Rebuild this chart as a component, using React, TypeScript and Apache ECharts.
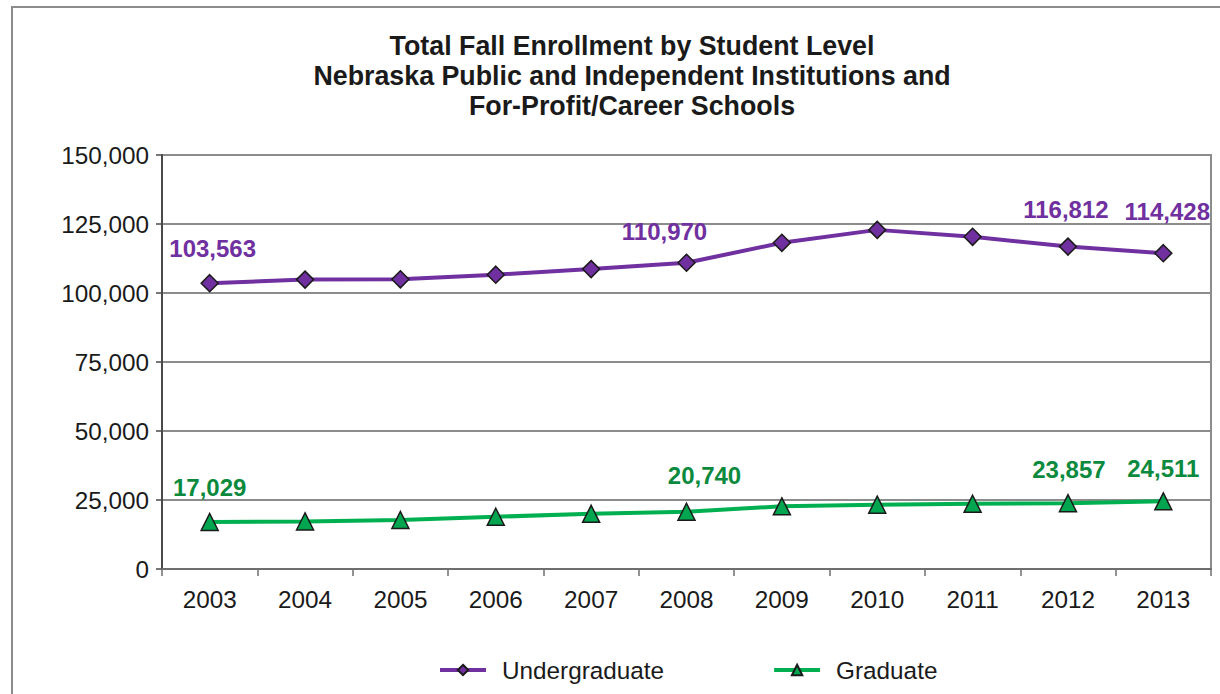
import React, { useEffect, useRef } from "react";
import * as echarts from "echarts";

const years = ["2003", "2004", "2005", "2006", "2007", "2008", "2009", "2010", "2011", "2012", "2013"];
const undergraduate = [103563, 104850, 104950, 106640, 108660, 110970, 118180, 122870, 120350, 116812, 114428];
const graduate = [17029, 17250, 17740, 18930, 20000, 20740, 22700, 23300, 23650, 23857, 24511];
const labelledUndergrad = [0, 5, 9, 10];
const labelledGrad = [0, 5, 9, 10];

const titleLines = [
  "Total Fall Enrollment by Student Level",
  "Nebraska Public and Independent Institutions and",
  "For-Profit/Career Schools",
];

// label offsets (style only)
const ugOffsets: Record<number, [number, number]> = { 0: [3, -8], 5: [-22, -5], 9: [-2, -11], 10: [4, -15] };
const grOffsets: Record<number, [number, number]> = { 0: [0, -8], 5: [18, -10], 9: [1, -7], 10: [0, -7] };

const FONT = "'Liberation Sans', Arial, sans-serif";
const fmt = (v: number) => v.toLocaleString("en-US");

function buildData(values: number[], labelled: number[], offsets: Record<number, [number, number]>) {
  return values.map((v, i) =>
    labelled.includes(i)
      ? { value: v, label: { show: true, offset: offsets[i] } }
      : { value: v }
  );
}

export default function App() {
  const ref = useRef<HTMLDivElement>(null);
  useEffect(() => {
    if (!ref.current) return;
    const chart = echarts.init(ref.current, undefined, { renderer: "svg" });
    chart.setOption({
      animation: false,
      backgroundColor: "#ffffff",
      textStyle: { fontFamily: FONT },
      title: {
        text: titleLines.join("\n"),
        left: 627,
        textAlign: "center",
        top: 26,
        textStyle: {
          fontFamily: FONT,
          fontSize: 26.8,
          fontWeight: "bold",
          color: "#1a1a1a",
          lineHeight: 30,
        },
      },
      graphic: [
        {
          type: "rect",
          shape: { x: 12, y: 7, width: 1230, height: 700 },
          style: { fill: "none", stroke: "#8c8c8c", lineWidth: 2 },
          silent: true,
        },
      ],
      grid: {
        left: 162,
        top: 155,
        right: 9,
        bottom: 125,
        show: true,
        borderColor: "#8c8c8c",
        borderWidth: 2,
      },
      legend: {
        left: 433,
        top: 653,
        itemWidth: 46,
        itemHeight: 13,
        itemGap: 108,
        lineStyle: { width: 4 },
        textStyle: { fontFamily: FONT, fontSize: 24.3, color: "#1a1a1a", padding: [0, 0, 0, 11] },
        data: ["Undergraduate", "Graduate"],
      },
      xAxis: {
        type: "category",
        data: years,
        boundaryGap: true,
        axisLine: { lineStyle: { color: "#6e6e6e", width: 2 } },
        axisTick: { show: true, length: 7, lineStyle: { color: "#6e6e6e", width: 1.5 } },
        axisLabel: { fontFamily: FONT, fontSize: 24.3, color: "#1a1a1a", margin: 18 },
      },
      yAxis: {
        type: "value",
        min: 0,
        max: 150000,
        interval: 25000,
        axisLine: { show: true, lineStyle: { color: "#4a4a4a", width: 2 } },
        axisTick: { show: true, length: 6, lineStyle: { color: "#4a4a4a", width: 1.5 } },
        axisLabel: { fontFamily: FONT, fontSize: 24.3, color: "#1a1a1a", margin: 13, formatter: (v: number) => fmt(v) },
        splitLine: { show: true, lineStyle: { color: "#8c8c8c", width: 2 } },
      },
      series: [
        {
          name: "Undergraduate",
          type: "line",
          data: buildData(undergraduate, labelledUndergrad, ugOffsets),
          symbol: "diamond",
          symbolSize: 17,
          lineStyle: { color: "#7030a0", width: 4 },
          itemStyle: { color: "#7030a0", borderColor: "#1a1a1a", borderWidth: 1.5 },
          label: {
            show: false,
            position: "top",
            distance: 5,
            fontFamily: FONT,
            fontSize: 24,
            fontWeight: "bold",
            color: "#7030a0",
            formatter: (p: any) => fmt(p.value),
          },
        },
        {
          name: "Graduate",
          type: "line",
          data: buildData(graduate, labelledGrad, grOffsets),
          symbol: "triangle",
          symbolSize: 17,
          lineStyle: { color: "#00b050", width: 4 },
          itemStyle: { color: "#00a550", borderColor: "#1a1a1a", borderWidth: 1.5 },
          label: {
            show: false,
            position: "top",
            distance: 5,
            fontFamily: FONT,
            fontSize: 24,
            fontWeight: "bold",
            color: "#0b8a3e",
            formatter: (p: any) => fmt(p.value),
          },
        },
      ],
    });
    return () => chart.dispose();
  }, []);
  return (
    <div
      ref={ref}
      style={{ position: "fixed", left: 0, top: 0, width: 1220, height: 694 }}
    />
  );
}
